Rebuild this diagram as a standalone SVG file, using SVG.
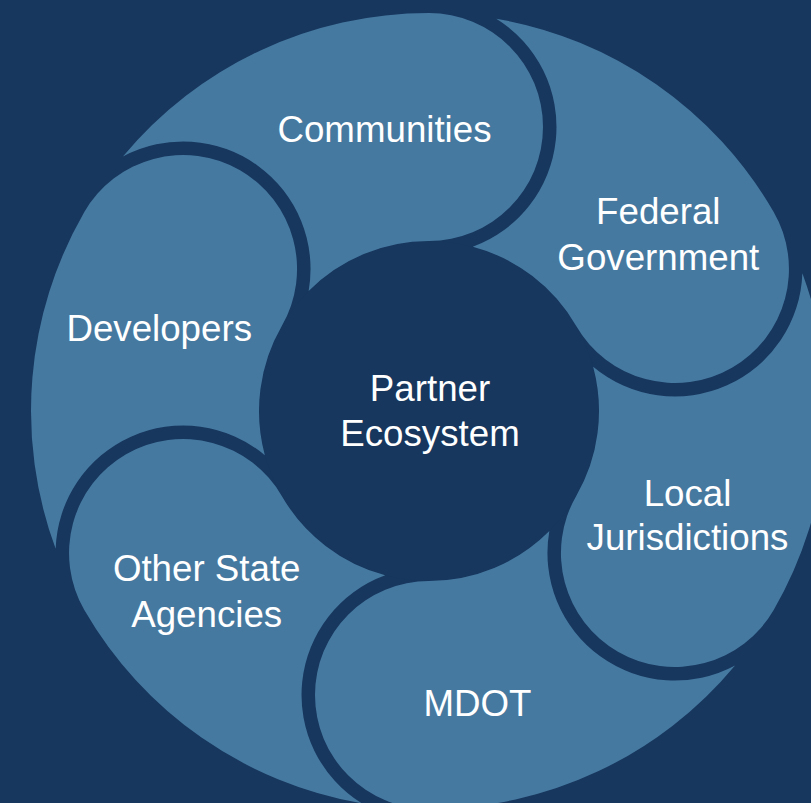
<svg xmlns="http://www.w3.org/2000/svg" xmlns:xlink="http://www.w3.org/1999/xlink" width="811" height="803" viewBox="0 0 811 803">
  <style>
    .bg { fill: #17375E; }
    .seg { fill: #4679A0; }
    .hub { fill: #17375E; }
    .lbl { font-family: "Liberation Sans", Arial, "Helvetica", sans-serif; font-size: 36.7px; fill: #FFFFFF; text-anchor: middle; }
  </style>
  <defs>
    <!-- one swirl segment: tail along the ring + rounded head; head at top, bitten by previous head's outline -->
    <path id="seg" d="M 122.93 156.59 A 398 398 0 0 1 429 13 A 114 114 0 0 1 543 127 A 114 114 0 0 1 429 241 A 170 170 0 0 0 308.65 290.94 A 127.5 127.5 0 0 0 122.93 156.59 Z"/>
  </defs>
  <rect class="bg" x="0" y="0" width="811" height="803"/>

  <g id="partner-ecosystem">
    <circle class="hub" cx="429" cy="411" r="170"/>
    <text class="lbl" x="430" y="401">Partner</text>
    <text class="lbl" x="430" y="446">Ecosystem</text>
  </g>

  <g id="communities">
    <use xlink:href="#seg" href="#seg" class="seg"/>
    <text class="lbl" x="384.5" y="141.5">Communities</text>
  </g>

  <g id="federal-government">
    <use xlink:href="#seg" href="#seg" class="seg" transform="rotate(60 429 411)"/>
    <text class="lbl" x="658.3" y="223.5">Federal</text>
    <text class="lbl" x="658.3" y="269.5">Government</text>
  </g>

  <g id="local-jurisdictions">
    <use xlink:href="#seg" href="#seg" class="seg" transform="rotate(120 429 411)"/>
    <text class="lbl" x="687.5" y="505.5">Local</text>
    <text class="lbl" x="687.5" y="550">Jurisdictions</text>
  </g>

  <g id="mdot">
    <use xlink:href="#seg" href="#seg" class="seg" transform="rotate(180 429 411)"/>
    <text class="lbl" x="477.5" y="716">MDOT</text>
  </g>

  <g id="other-state-agencies">
    <use xlink:href="#seg" href="#seg" class="seg" transform="rotate(240 429 411)"/>
    <text class="lbl" x="206.7" y="580.5">Other State</text>
    <text class="lbl" x="206.7" y="626.7">Agencies</text>
  </g>

  <g id="developers">
    <use xlink:href="#seg" href="#seg" class="seg" transform="rotate(300 429 411)"/>
    <text class="lbl" x="159.2" y="340.5">Developers</text>
  </g>

  <g id="connectors"/>
</svg>
